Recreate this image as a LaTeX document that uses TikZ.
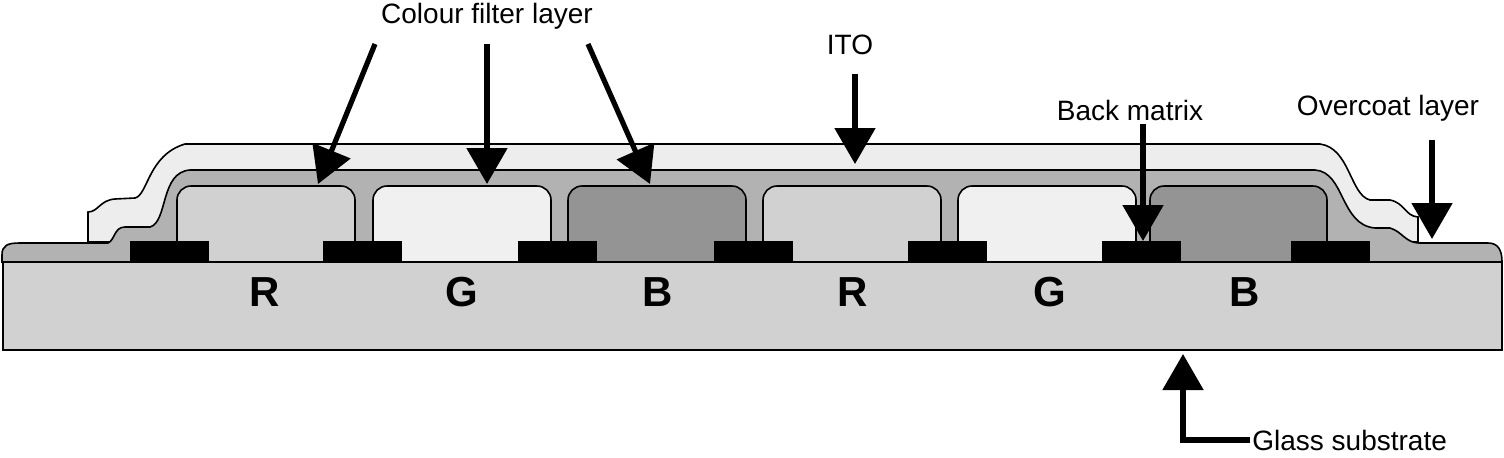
\documentclass[tikz,border=0pt]{standalone}
\usepackage{fontspec}
\setmainfont{Liberation Sans}
\usetikzlibrary{arrows.meta}

\tikzset{
  layer/.style={draw=black, line width=0.8pt},
  bigarrow/.style={line width=2.6pt, -{Triangle[width=20pt,length=18pt]}},
  lbl/.style={font=\fontsize{14}{16}\selectfont, inner sep=1pt},
  rgb/.style={font=\bfseries\fontsize{21}{24}\selectfont}
}

\begin{document}
\begin{tikzpicture}[x=0.5pt,y=-0.5pt]
  \useasboundingbox (0,0) rectangle (1504,457);

  % ITO layer
  \fill[black!7,layer] (88,242) -- (88,212) .. controls (98,212) and (100,200) .. (115,199)
      -- (135,198) .. controls (148,195) and (148,155) .. (185,144) -- (1320,144)
      .. controls (1350,148) and (1350,195) .. (1370,200) -- (1390,200)
      .. controls (1405,203) and (1405,216) .. (1418,217) -- (1418,242) -- cycle;

  % overcoat
  \fill[black!30,layer] (2,262) -- (2,255) .. controls (2,245) and (8,243) .. (20,243) -- (108,243)
      .. controls (115,240) and (114,227) .. (125,227) -- (150,227)
      .. controls (168,222) and (160,172) .. (190,170) -- (1315,170)
      .. controls (1345,172) and (1340,225) .. (1375,228) -- (1390,228)
      .. controls (1403,232) and (1405,243) .. (1420,243) -- (1488,243)
      .. controls (1498,243) and (1502,250) .. (1502,262) -- cycle;

  % colour filters
  \foreach \xa/\xb/\col in {177/355/black!18, 373/551/black!6, 568/746/black!42,
                            763/941/black!18, 958/1136/black!6, 1150/1327/black!42}
    \filldraw[fill=\col,layer,rounded corners=7pt] (\xa,262) -- (\xa,186) -- (\xb,186) -- (\xb,262);

  % black matrix
  \foreach \xa in {130,323,518,714,908,1102,1291}
    \fill[black] (\xa,241) rectangle ++(79,21);

  % glass substrate
  \filldraw[fill=black!18,layer] (3,262) rectangle (1502,350);

  \foreach \x/\c [count=\i] in {265/R,462/G,658/B,853/R,1050/G,1245/B}
    \node[rgb] (f\i) at (\x,292) {\c};

  % labels and arrows
  \node[lbl] (cfl) at (487,16) {Colour filter layer};
  \coordinate (cfa) at (318,184);
  \coordinate (cfb) at (487,184);
  \coordinate (cfc) at (650,184);
  \draw[bigarrow] (375,44) -- (cfa);
  \draw[bigarrow] (487,44) -- (cfb);
  \draw[bigarrow] (588,44) -- (cfc);

  \node[lbl] (ito) at (850,45) {ITO};
  \coordinate (itoa) at (855,164);
  \draw[bigarrow] (855,74) -- (itoa);

  \node[lbl] (bm) at (1130,110) {Back matrix};
  \coordinate (bma) at (1143,241);
  \draw[bigarrow] (1143,124) -- (bma);

  \node[lbl] (ov) at (1388,108) {Overcoat layer};
  \coordinate (ova) at (1432,239);
  \draw[bigarrow] (1432,140) -- (ova);

  \node[lbl,anchor=west] (gs) at (1250,440) {Glass substrate};
  \coordinate (gsa) at (1183,354);
  \draw[bigarrow] (gs.west) -- (1183,440) -- (gsa);
\end{tikzpicture}
\end{document}
